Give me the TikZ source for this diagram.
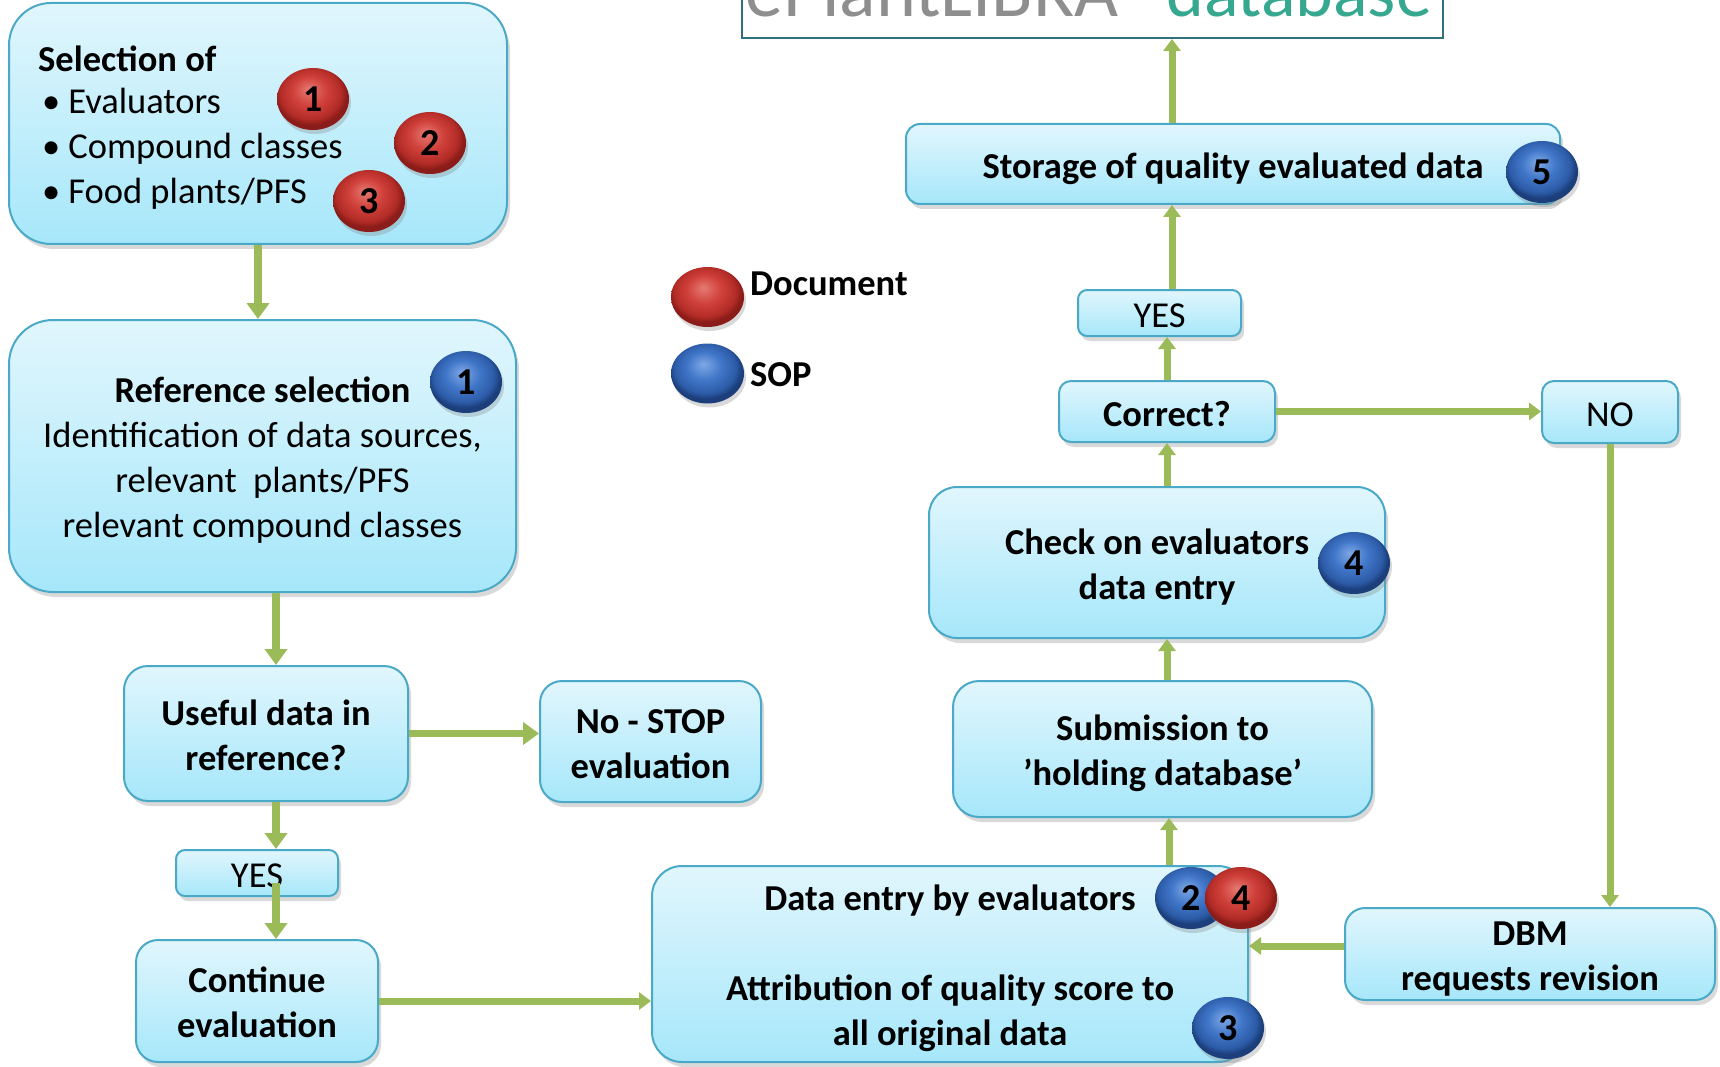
\documentclass[tikz,border=0pt]{standalone}
\usepackage{fontspec}
\setmainfont{Carlito}
\usetikzlibrary{shapes.geometric,arrows.meta,shadows}

% palette
\definecolor{boxtop}{HTML}{E1F6FD}
\definecolor{boxbot}{HTML}{A6E7FA}
\definecolor{boxline}{HTML}{4BA9C8}
\definecolor{flow}{HTML}{9BBB59}
\definecolor{dbline}{HTML}{31707F}
\definecolor{dbgray}{HTML}{8E8E8E}
\definecolor{dbteal}{HTML}{36A890}
\definecolor{redA}{HTML}{E47A72}
\definecolor{redB}{HTML}{D0403A}
\definecolor{redC}{HTML}{B32C27}
\definecolor{redD}{HTML}{8A1C19}
\definecolor{blueA}{HTML}{7EA8E6}
\definecolor{blueB}{HTML}{4076C8}
\definecolor{blueC}{HTML}{2D5CA8}
\definecolor{blueD}{HTML}{1C3F7C}

% glossy badge shadings
\pgfdeclareradialshading{redball}{\pgfpoint{-3bp}{8bp}}{color(0bp)=(redA); color(12bp)=(redB); color(21bp)=(redC); color(25bp)=(redD); color(50bp)=(redD)}
\pgfdeclareradialshading{blueball}{\pgfpoint{-3bp}{8bp}}{color(0bp)=(blueA); color(12bp)=(blueB); color(21bp)=(blueC); color(25bp)=(blueD); color(50bp)=(blueD)}

\newcommand{\bodyfont}{\fontsize{36.5}{45}\selectfont}
\newcommand{\badgefont}{\fontsize{38}{42}\selectfont\bfseries}
% struts that set the text of a box a little below its middle
\newcommand{\topstrut}{\rule{0pt}{37pt}}
\newcommand{\botstrut}{\rule[-7.5pt]{0pt}{7.5pt}}
\newcommand{\firststrut}{\rule{0pt}{36pt}}

\tikzset{
  box/.style={draw=boxline, line width=2pt, top color=boxtop, bottom color=boxbot,
    rounded corners=#1, inner sep=0pt, align=center, font=\bodyfont,
    execute at begin node=\topstrut, execute at end node=\botstrut,
    drop shadow={shadow xshift=3pt, shadow yshift=-5pt, opacity=0.3}},
  box/.default=22pt,
  badge/.style={ellipse, minimum width=72pt, minimum height=62pt, inner sep=0pt,
    shade, shading=#1, font=\badgefont,
    drop shadow={shadow xshift=2pt, shadow yshift=-4pt, opacity=0.3}},
  flowbig/.style={draw=flow, line width=7.5pt, -{Triangle[width=22pt,length=16pt]}},
  flowsmall/.style={draw=flow, line width=7pt, -{Triangle[width=17pt,length=12pt]}},
}

\begin{document}
\begin{tikzpicture}[x=1pt, y=-1pt]
\useasboundingbox (0,0) rectangle (1720,1067);

% database banner at the top edge
\node (db) [draw=dbline, line width=2pt, fill=white, minimum width=701pt,
  minimum height=84pt, inner sep=0pt] at (1092.5,-4) {};
\node (dbname) [anchor=base west, inner sep=0pt, text=dbgray,
  font=\fontsize{76}{80}\selectfont] at (745,17) {ePlantLIBRA};
\node (dbword) [anchor=base west, inner sep=0pt, text=dbteal,
  font=\fontsize{72}{80}\selectfont] at (1166,17) {database};

% left column
\node (sel) [box=42pt, minimum width=498pt, minimum height=241pt] at (258,123.5) {};
\node (seltxt) [anchor=base west, inner sep=0pt, align=left, font=\bodyfont] at (38,204)
  {\textbf{Selection of}\\[-3pt]
   \hspace*{4pt}\textbullet\hspace{8pt}Evaluators\\
   \hspace*{4pt}\textbullet\hspace{8pt}Compound classes\\
   \hspace*{4pt}\textbullet\hspace{8pt}Food plants/PFS};

\node (ref) [box=44pt, minimum width=507pt, minimum height=272pt] at (262.5,456)
  {\firststrut\textbf{Reference selection}\\Identification of data sources,\\relevant\ \ plants/PFS\\relevant compound classes};

\node (useful) [box=24pt, minimum width=284pt, minimum height=135pt] at (266,733.5)
  {\firststrut\textbf{Useful data in}\\\textbf{reference?}};
\node (stop) [box=22pt, minimum width=221pt, minimum height=121pt] at (650.5,741.5)
  {\firststrut\textbf{No - STOP}\\\textbf{evaluation}};
\node (yesL) [box=9pt, minimum width=162pt, minimum height=46pt] at (257,873) {YES};
\node (cont) [box=22pt, minimum width=242pt, minimum height=122pt] at (257,1001)
  {\firststrut\textbf{Continue}\\\textbf{evaluation}};

% right column
\node (entry) [box=30pt, minimum width=596pt, minimum height=196pt] at (950,964)
  {\firststrut\textbf{Data entry by evaluators}\\[45pt]\textbf{Attribution of quality score to}\\\textbf{all original data}};
\node (dbm) [box=20pt, minimum width=370pt, minimum height=92pt] at (1530,954)
  {\firststrut\textbf{DBM}\\\textbf{requests revision}};
\node (sub) [box=26pt, minimum width=419pt, minimum height=136pt] at (1162.5,749)
  {\firststrut\textbf{Submission to}\\\textbf{’holding database’}};
\node (check) [box=28pt, minimum width=456pt, minimum height=151pt] at (1157,562.5)
  {\firststrut\textbf{Check on evaluators}\\\textbf{data entry}};
\node (correct) [box=12pt, minimum width=216pt, minimum height=61pt] at (1167,411.5)
  {\textbf{Correct?}};
\node (no) [box=12pt, minimum width=136pt, minimum height=62pt] at (1610,412) {NO};
\node (yesR) [box=9pt, minimum width=163pt, minimum height=46pt] at (1159.5,313) {YES};
\node (store) [box=14pt, minimum width=654pt, minimum height=80pt] at (1233,164)
  {\textbf{Storage of quality evaluated data}};

% helper points for offset connectors
\coordinate (refout) at ([xshift=13.5pt]ref.south);
\coordinate (usefulout) at ([xshift=10pt]useful.south);
\coordinate (yesLout) at ([xshift=19pt,yshift=-10pt]yesL.center);
\coordinate (subin) at ([xshift=6.5pt]sub.south);
\coordinate (subout) at ([xshift=4.5pt]sub.north);
\coordinate (dbmout) at ([yshift=8pt]dbm.west);
\coordinate (yesRout) at ([xshift=12.5pt]yesR.north);
\coordinate (storeout) at (yesRout |- store.north);

% connectors
\draw[flowbig] (sel.south) -- (sel.south |- ref.north);
\draw[flowbig] (refout) -- (refout |- useful.north);
\draw[flowbig] (useful.east) -- (useful.east -| stop.west);
\draw[flowbig] (usefulout) -- (usefulout |- yesL.north);
\draw[flowbig] (yesLout) -- (yesLout |- cont.north);
\draw[flowsmall] (cont.east) -- (cont.east -| entry.west);
\draw[flowsmall] (dbmout) -- (dbmout -| entry.east);
\draw[flowsmall] (no.south) -- (no.south |- dbm.north);
\draw[flowsmall] (subin |- entry.north) -- (subin);
\draw[flowsmall] (subout) -- (subout |- check.south);
\draw[flowsmall] (correct.south |- check.north) -- (correct.south);
\draw[flowsmall] (correct.north) -- (correct.north |- yesR.south);
\draw[flowsmall] (correct.east) -- (correct.east -| no.west);
\draw[flowsmall] (yesRout) -- (yesRout |- store.south);
\draw[flowsmall] (storeout) -- (storeout |- db.south);

% document (red) and SOP (blue) badges
\node (d1) [badge=redball] at (313,99) {1};
\node (d2) [badge=redball] at (430,143) {2};
\node (d3) [badge=redball] at (369,201) {3};
\node (s1) [badge=blueball] at (466,382) {1};
\node (s5) [badge=blueball] at (1542,172) {5};
\node (s4) [badge=blueball] at (1354,563) {4};
\node (s2) [badge=blueball] at (1191,898) {2};
\node (d4) [badge=redball] at (1241,898) {4};
\node (s3) [badge=blueball] at (1228,1028) {3};

% legend
\node (legdoc) [badge=redball, minimum width=73pt, minimum height=60pt] at (707.5,297) {};
\node (legsop) [badge=blueball, minimum width=73pt, minimum height=60pt] at (707.5,373.5) {};
\node (legdoctxt) [anchor=west, inner sep=0pt, font=\bodyfont\bfseries] at (750,284) {Document};
\node (legsoptxt) [anchor=west, inner sep=0pt, font=\bodyfont\bfseries] at (750,375) {SOP};
\end{tikzpicture}
\end{document}
